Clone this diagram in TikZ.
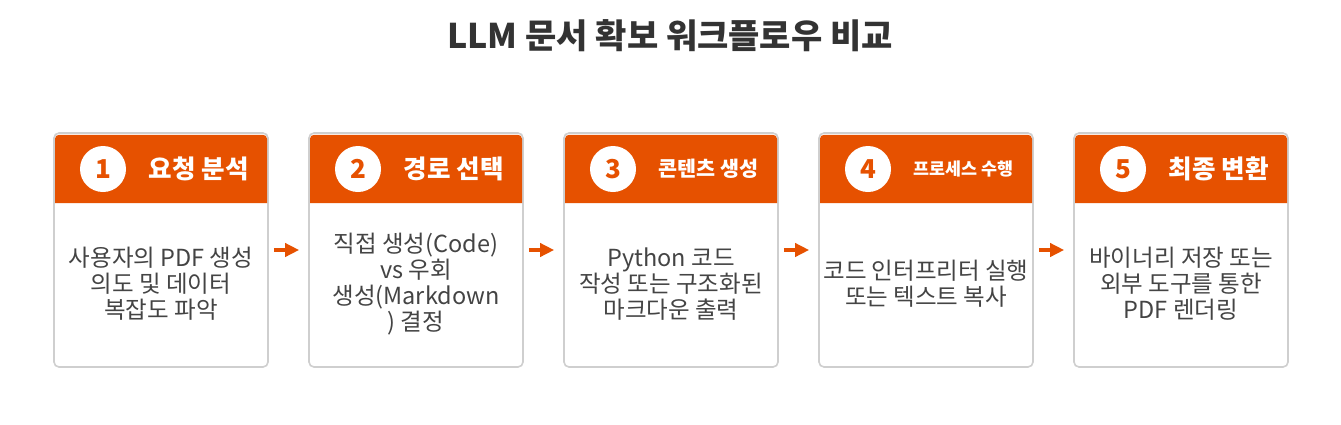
\documentclass[tikz,border=0pt]{standalone}
\usepackage{fontspec}
\setmainfont{Noto Sans CJK KR}
\usetikzlibrary{arrows.meta}
\definecolor{hdr}{HTML}{E65100}
\definecolor{ttl}{HTML}{333333}
\definecolor{bdy}{HTML}{444444}
\definecolor{brd}{HTML}{CFCFCF}
\tikzset{
  card/.style={draw=brd, line width=1.6pt, fill=white, rounded corners=5pt, minimum width=214pt, minimum height=234pt, inner sep=0pt},
  numc/.style={circle, fill=white, minimum size=46pt, inner sep=0pt, text=hdr, font=\fontsize{26}{26}\selectfont\bfseries},
  htext/.style={anchor=east, text=white, inner sep=0pt},
  btext/.style={align=center, text=bdy, font=\fontsize{23.5}{26}\selectfont, inner sep=0pt},
  arr/.style={draw=hdr, line width=4pt, -{Triangle[length=14pt,width=13pt]}, shorten <=5pt, shorten >=9pt},
}
\begin{document}
\begin{tikzpicture}[x=1pt,y=-1pt]
\useasboundingbox (0,0) rectangle (1341,424);
\node[text=ttl, font=\fontsize{34}{34}\selectfont\bfseries] (title) at (670,36) {LLM 문서 확보 워크플로우 비교};
\foreach \i/\h/\b in {
  1/요청 분석/{사용자의 PDF 생성\\의도 및 데이터\\복잡도 파악},
  2/경로 선택/{직접 생성(Code)\\vs 우회\\생성(Markdown\\) 결정},
  3/콘텐츠 생성/{Python 코드\\작성 또는 구조화된\\마크다운 출력},
  4/프로세스 수행/{코드 인터프리터 실행\\또는 텍스트 복사},
  5/최종 변환/{바이너리 저장 또는\\외부 도구를 통한\\PDF 렌더링}}{
  \pgfmathsetmacro{\L}{54+255*(\i-1)}
  \node[card] (c\i) at (\L+107,250) {};
  \fill[hdr] (\L+1,203) [rounded corners=4pt] -- (\L+1,134.8) -- (\L+213,134.8) [sharp corners] -- (\L+213,203) -- cycle;
  \node[numc] (n\i) at (\L+49,169) {\i};
  \node[htext] (h\i) at (\L+195,169) {\resizebox{100pt}{!}{\bfseries \h}};
  \node[btext] (b\i) at (\L+107,284) {\b};
}
\foreach \a/\c in {1/2,2/3,3/4,4/5}{
  \draw[arr] (c\a) -- (c\c);
}
\end{tikzpicture}
\end{document}
